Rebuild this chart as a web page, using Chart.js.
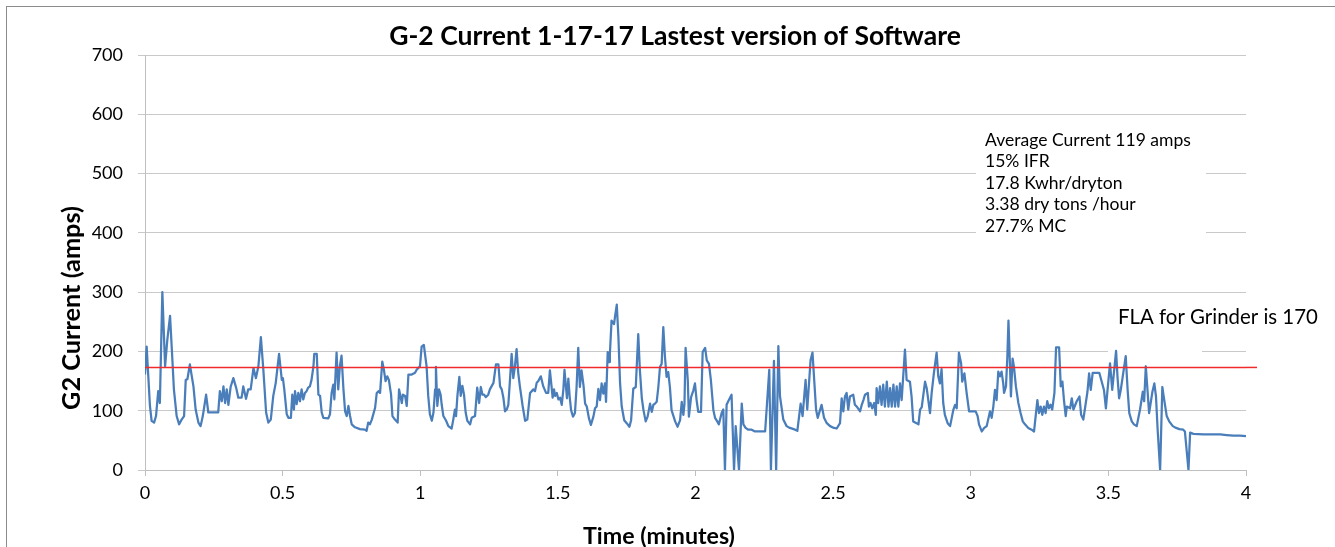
<!DOCTYPE html>
<html>
<head>
<meta charset="utf-8">
<script src="https://cdn.jsdelivr.net/npm/chart.js@4.4.1/dist/chart.umd.min.js"></script>
<style>
  html, body { margin: 0; padding: 0; background: #fff; }
  #wrap { position: relative; width: 1335px; height: 547px; }
</style>
</head>
<body>
<div id="wrap"><canvas id="c"></canvas></div>
<script>
// ---- Data (time in minutes, current in amps) ----
const times = [
0.000,0.006,0.012,0.018,0.024,0.033,0.040,0.048,0.054,0.063,0.073,0.081,0.091,0.097,0.105,0.115,0.124,0.133,0.142,0.148,
0.154,0.163,0.176,0.184,0.194,0.202,0.210,0.222,0.230,0.266,0.272,0.279,0.285,0.291,0.297,0.303,0.311,0.321,0.331,0.339,
0.351,0.357,0.367,0.375,0.384,0.394,0.403,0.412,0.421,0.430,0.440,0.448,0.457,0.466,0.475,0.487,0.497,0.501,0.506,0.515,
0.521,0.530,0.535,0.541,0.545,0.551,0.557,0.563,0.569,0.575,0.581,0.587,0.593,0.599,0.605,0.612,0.615,0.624,0.630,0.636,
0.642,0.648,0.666,0.672,0.678,0.684,0.688,0.693,0.696,0.702,0.708,0.714,0.721,0.727,0.733,0.739,0.745,0.751,0.763,0.781,
0.799,0.805,0.811,0.817,0.824,0.836,0.842,0.848,0.854,0.862,0.868,0.874,0.880,0.886,0.894,0.899,0.908,0.918,0.923,0.928,
0.933,0.937,0.945,0.951,0.957,0.969,0.981,0.987,0.999,1.005,1.013,1.023,1.029,1.035,1.042,1.048,1.054,1.057,1.062,1.068,
1.074,1.078,1.084,1.094,1.102,1.114,1.120,1.126,1.130,1.135,1.142,1.147,1.153,1.159,1.165,1.171,1.181,1.187,1.199,1.207,
1.214,1.220,1.226,1.232,1.238,1.247,1.253,1.266,1.275,1.284,1.290,1.296,1.302,1.308,1.314,1.320,1.326,1.332,1.338,1.344,
1.350,1.356,1.362,1.372,1.381,1.389,1.399,1.411,1.417,1.423,1.429,1.438,1.447,1.457,1.465,1.471,1.477,1.481,1.486,1.490,
1.496,1.502,1.508,1.514,1.520,1.524,1.533,1.538,1.543,1.548,1.555,1.562,1.568,1.574,1.580,1.586,1.593,1.599,1.605,1.613,
1.620,1.629,1.635,1.641,1.647,1.653,1.659,1.665,1.671,1.675,1.681,1.686,1.689,1.695,1.704,1.708,1.714,1.720,1.726,1.732,
1.741,1.750,1.760,1.766,1.774,1.783,1.792,1.798,1.805,1.811,1.819,1.826,1.835,1.841,1.847,1.853,1.859,1.865,1.871,1.877,
1.883,1.889,1.895,1.901,1.907,1.913,1.926,1.935,1.944,1.950,1.956,1.960,1.964,1.972,1.976,1.984,1.992,1.998,2.004,2.010,
2.020,2.026,2.035,2.041,2.049,2.056,2.065,2.071,2.079,2.085,2.095,2.101,2.107,2.113,2.119,2.131,2.140,2.146,2.158,2.168,
2.174,2.182,2.192,2.204,2.216,2.253,2.268,2.274,2.285,2.293,2.301,2.307,2.319,2.331,2.343,2.362,2.370,2.382,2.389,2.400,
2.406,2.418,2.425,2.438,2.444,2.458,2.467,2.477,2.489,2.503,2.513,2.525,2.531,2.537,2.543,2.549,2.555,2.561,2.573,2.579,
2.586,2.598,2.604,2.610,2.616,2.626,2.630,2.636,2.642,2.649,2.655,2.658,2.664,2.670,2.676,2.682,2.688,2.695,2.701,2.707,
2.713,2.719,2.725,2.731,2.737,2.743,2.749,2.761,2.767,2.779,2.785,2.791,2.803,2.810,2.816,2.822,2.834,2.840,2.852,2.858,
2.866,2.876,2.882,2.888,2.894,2.900,2.906,2.916,2.925,2.937,2.943,2.949,2.957,2.965,2.969,2.977,2.985,2.994,3.018,3.025,
3.030,3.040,3.049,3.058,3.070,3.076,3.082,3.088,3.094,3.100,3.106,3.112,3.118,3.121,3.128,3.133,3.137,3.143,3.146,3.152,
3.157,3.164,3.173,3.181,3.189,3.197,3.209,3.221,3.230,3.242,3.248,3.254,3.260,3.266,3.272,3.278,3.284,3.290,3.296,3.304,
3.310,3.321,3.327,3.333,3.339,3.345,3.349,3.361,3.367,3.373,3.385,3.395,3.401,3.409,3.424,3.430,3.436,3.443,3.467,3.484,
3.491,3.496,3.506,3.514,3.528,3.533,3.539,3.545,3.563,3.570,3.576,3.585,3.593,3.603,3.615,3.625,3.630,3.636,3.648,3.660,
3.667,3.673,3.679,3.688,3.696,3.703,3.712,3.721,3.734,3.746,3.758,3.772,3.778,3.791,3.797,3.809,3.845,3.881,3.906,3.930,
3.954,3.978,4.000
];
const amps = [
161,208,158,108,83,80,91,133,113,300,175,219,260,208,136,91,77,85,91,152,
153,178,141,102,80,74,91,127,97,97,133,116,141,113,136,110,140,155,139,122,
122,141,120,136,136,172,155,175,224,169,97,80,85,125,147,196,152,155,136,94,
88,88,127,102,133,111,130,116,136,119,130,133,139,141,152,175,196,196,127,125,
97,88,87,94,130,144,119,169,198,136,175,193,136,99,91,108,91,77,72,69,
68,66,80,77,85,105,130,133,130,183,169,150,158,152,127,91,85,80,136,125,
113,127,125,108,161,161,164,169,175,208,211,175,125,94,83,97,136,174,108,136,
127,110,91,83,74,70,85,102,91,125,157,125,142,127,97,83,77,88,91,139,
113,140,127,127,123,127,136,147,178,178,141,136,122,99,102,110,152,196,155,175,
204,164,141,108,83,85,130,136,133,147,150,158,141,130,130,168,141,122,136,125,
130,119,122,110,136,169,121,154,123,101,90,96,140,206,140,168,143,112,107,87,
76,90,104,107,137,118,146,129,146,115,199,182,196,252,246,260,279,224,146,107,
84,79,73,84,137,140,229,168,121,101,82,90,112,98,110,112,115,140,174,179,
241,191,157,165,140,101,82,73,84,115,93,112,206,151,90,123,134,146,118,98,
98,199,206,185,179,151,101,88,82,77,96,102,0,110,116,127,0,74,0,112,
77,71,68,68,65,65,169,0,184,0,209,124,85,74,71,68,66,112,91,152,
102,185,198,102,88,110,88,79,74,71,70,79,121,99,124,130,102,124,127,110,
107,99,110,118,127,130,107,113,104,113,93,138,113,141,110,144,107,149,107,138,
107,144,107,141,107,146,118,203,152,149,124,82,79,77,102,106,149,138,96,130,
163,198,158,146,170,113,93,79,74,102,110,104,198,180,149,163,130,99,99,91,
77,65,71,74,99,88,107,135,118,166,158,166,146,130,141,191,252,169,124,188,
174,141,113,96,82,77,71,68,65,118,96,107,93,107,96,116,104,110,102,130,
207,207,141,149,116,91,107,104,121,102,116,124,93,85,132,163,135,164,164,135,
104,130,180,135,201,158,121,135,192,135,96,82,77,74,102,132,116,175,96,132,
146,124,68,0,140,118,91,82,74,71,69,68,65,0,63,61,60,60,60,59,
58,58,57
];
// FLA reference line (runs slightly past the last tick, as in the original)
const flaTimes = [0, 4.04];
const flaAmps = [173, 173];

// Axis ticks
const yTicks = [0, 100, 200, 300, 400, 500, 600, 700];
const xTicks = [0, 0.5, 1, 1.5, 2, 2.5, 3, 3.5, 4];
const xTickLabels = ['0', '0.5', '1', '1.5', '2', '2.5', '3', '3.5', '4'];

// Texts
const titleText = 'G-2 Current 1-17-17 Lastest version of Software';
const xTitleText = 'Time (minutes)';
const yTitleText = 'G2 Current (amps)';
const noteLines = ['Average Current 119 amps', '15% IFR', '17.8 Kwhr/dryton', '3.38 dry tons /hour', '27.7% MC'];
const flaText = 'FLA for Grinder is 170';

const FAMILY = 'Lato, "Open Sans", "DejaVu Sans", sans-serif';
Chart.defaults.font.family = FAMILY;

function fitSize(ctx, text, weight, target, base) {
  ctx.font = weight + ' ' + base + 'px ' + FAMILY;
  const w = ctx.measureText(text).width;
  return base * target / w;
}

const decor = {
  id: 'decor',
  beforeDraw(chart) {
    const ctx = chart.ctx;
    ctx.save();
    ctx.fillStyle = '#ffffff';
    ctx.fillRect(0, 0, chart.width, chart.height);
    ctx.strokeStyle = '#8c8c8c';
    ctx.lineWidth = 1;
    ctx.strokeRect(6.5, 6.5, chart.width + 20, chart.height + 20);
    ctx.restore();
  },
  beforeDatasetsDraw(chart) {
    const ctx = chart.ctx;
    ctx.save();
    ctx.fillStyle = '#ffffff';
    ctx.fillRect(976, 126, 230, 118);
    ctx.fillRect(1108, 300, 94, 57);
    ctx.restore();
  },
  afterDatasetsDraw(chart) {
    // FLA line extension beyond the axis end (outside the chart area)
    const ctx = chart.ctx, xs = chart.scales.x, ys = chart.scales.y;
    ctx.save();
    ctx.strokeStyle = '#ef2b2b';
    ctx.lineWidth = 1.5;
    ctx.beginPath();
    ctx.moveTo(xs.getPixelForValue(4), ys.getPixelForValue(flaAmps[1]));
    ctx.lineTo(xs.getPixelForValue(flaTimes[1]), ys.getPixelForValue(flaAmps[1]));
    ctx.stroke();
    ctx.restore();
  },
  afterDraw(chart) {
    const ctx = chart.ctx;
    ctx.save();
    ctx.fillStyle = '#000000';
    ctx.textBaseline = 'middle';
    // Title
    let s = fitSize(ctx, titleText, 'bold', 572, 22);
    ctx.font = 'bold ' + s + 'px ' + FAMILY;
    ctx.textAlign = 'center';
    ctx.fillText(titleText, 675, 36);
    // X title
    s = fitSize(ctx, xTitleText, 'bold', 152, 18);
    ctx.font = 'bold ' + s + 'px ' + FAMILY;
    ctx.fillText(xTitleText, 659, 537);
    // Y title
    s = fitSize(ctx, yTitleText, 'bold', 204, 18);
    ctx.font = 'bold ' + s + 'px ' + FAMILY;
    ctx.save();
    ctx.translate(72, 308);
    ctx.rotate(-Math.PI / 2);
    ctx.fillText(yTitleText, 0, 0);
    ctx.restore();
    // Notes
    ctx.textAlign = 'left';
    s = fitSize(ctx, noteLines[0], 'normal', 206, 15);
    ctx.font = 'normal ' + s + 'px ' + FAMILY;
    noteLines.forEach((t, i) => ctx.fillText(t, 985, 140 + i * 21.5));
    s = fitSize(ctx, flaText, 'normal', 200, 16);
    ctx.font = 'normal ' + s + 'px ' + FAMILY;
    ctx.fillText(flaText, 1118, 317);
    ctx.restore();
  }
};

new Chart(document.getElementById('c'), {
  type: 'scatter',
  data: {
    datasets: [
      {
        label: 'FLA',
        data: flaTimes.map((t, i) => ({ x: t, y: flaAmps[i] })),
        showLine: true,
        borderColor: '#ef2b2b',
        borderWidth: 1.5,
        pointRadius: 0
      },
      {
        label: 'G2 Current',
        data: times.map((t, i) => ({ x: t, y: amps[i] })),
        showLine: true,
        borderColor: '#4a7ebb',
        borderWidth: 2.25,
        borderJoinStyle: 'round',
        pointRadius: 0,
        tension: 0
      }
    ]
  },
  options: {
    responsive: true,
    maintainAspectRatio: false,
    animation: false,
    events: [],
    layout: { padding: { left: 0, right: 89, top: 55, bottom: 0 } },
    plugins: { legend: { display: false }, tooltip: { enabled: false } },
    scales: {
      x: {
        type: 'linear', min: 0, max: 4,
        afterBuildTicks: (s) => { s.ticks = xTicks.map(v => ({ value: v })); },
        afterFit: (s) => { s.height = 77; },
        ticks: {
          callback: (v, i) => xTickLabels[i],
          font: { size: 18 }, color: '#000', padding: 6,
          maxRotation: 0, autoSkip: false
        },
        grid: { drawOnChartArea: false, drawTicks: true, tickLength: 6, color: '#bfbfbf' },
        border: { color: '#bfbfbf' }
      },
      y: {
        min: 0, max: 700,
        afterBuildTicks: (s) => { s.ticks = yTicks.map(v => ({ value: v })); },
        afterFit: (s) => { s.width = 145; },
        ticks: { font: { size: 18 }, color: '#000', padding: 15 },
        grid: { color: '#c9c9c9', tickLength: 7 },
        border: { color: '#bfbfbf' }
      }
    }
  },
  plugins: [decor]
});
</script>
</body>
</html>
